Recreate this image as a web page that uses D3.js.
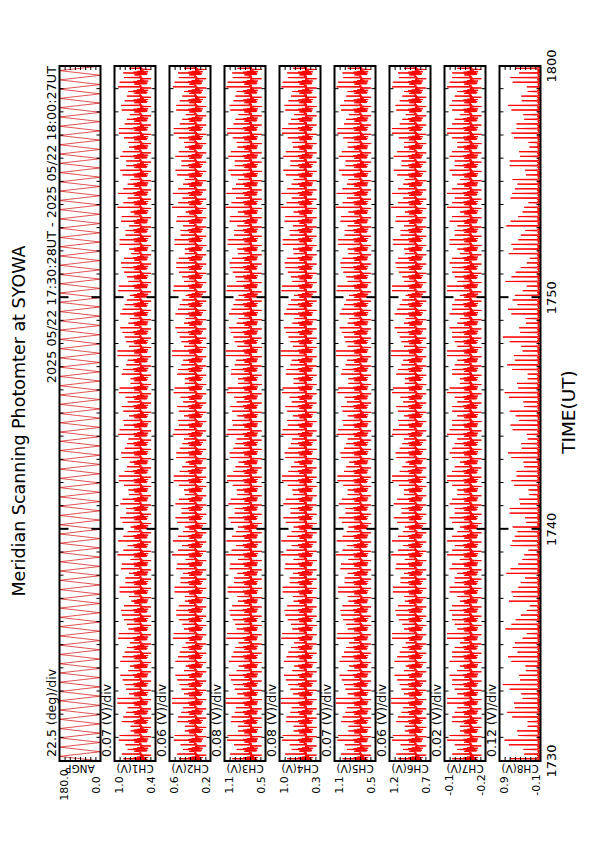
<!DOCTYPE html>
<html>
<head>
<meta charset="utf-8">
<script src="https://cdn.jsdelivr.net/npm/d3@7"></script>
<style>
	body { margin: 0; background: #fff; }
	text { font-family: "DejaVu Sans", "Liberation Sans", Arial, sans-serif; fill: #000; }
</style>
</head>
<body>
<div id="chart-area"></div>
<script>
// panel labels / scales, top panel first
let channelNames = ["ANGP", "CH1(V)", "CH2(V)", "CH3(V)", "CH4(V)", "CH5(V)", "CH6(V)", "CH7(V)", "CH8(V)"];
let scaleLabels = ["22.5 (deg)/div", "0.07 (V)/div", "0.06 (V)/div", "0.08 (V)/div", "0.08 (V)/div",
	"0.07 (V)/div", "0.06 (V)/div", "0.02 (V)/div", "0.12 (V)/div"];
let divValues = [22.5, 0.07, 0.06, 0.08, 0.08, 0.07, 0.06, 0.02, 0.12];
let minValues = [0, 0.40, 0.15, 0.50, 0.33, 0.50, 0.70, -0.25, -0.10];
let maxLabels = ["180.0", "1.0", "0.6", "1.1", "1.0", "1.1", "1.2", "-0.1", "0.9"];
let minLabels = ["0.0", "0.4", "0.2", "0.5", "0.3", "0.5", "0.7", "-0.2", "-0.1"];

// time axis, minutes after 17:00 UT
let startMin = 30;
let endMin = 60;
let timeTicks = [30, 40, 50, 60];
let timeTickLabels = ["1730", "1740", "1750", "1800"];
let scanCount = 75;

// mirror angle (deg) at each sample of one scan: north to south and back
let scanAngles = [0, 15, 30, 45, 60, 75, 90, 105, 120, 135, 150, 165, 180,
	165, 150, 135, 120, 105, 90, 75, 60, 45, 30, 15];
let peakSlots = [6, 18];

// intensity at each sample of one scan, per channel (V)
let ch1Profile = [0.62,0.69,0.52,0.67,0.51,0.68,0.80,0.53,0.70,0.50,0.65,0.56,0.61,0.59,0.61,0.46,0.60,0.58,0.80,0.61,0.59,0.62,0.60,0.61];
let ch2Profile = [0.34,0.40,0.26,0.38,0.25,0.39,0.50,0.27,0.41,0.24,0.37,0.28,0.33,0.31,0.33,0.20,0.32,0.30,0.50,0.33,0.31,0.34,0.32,0.33];
let ch3Profile = [0.76,0.83,0.64,0.81,0.63,0.82,1.00,0.65,0.85,0.62,0.79,0.68,0.74,0.72,0.74,0.56,0.73,0.71,1.00,0.74,0.71,0.76,0.72,0.74];
let ch4Profile = [0.59,0.66,0.47,0.64,0.46,0.65,0.83,0.48,0.68,0.45,0.62,0.51,0.57,0.55,0.57,0.39,0.56,0.54,0.83,0.57,0.54,0.59,0.55,0.57];
let ch5Profile = [0.72,0.79,0.62,0.77,0.61,0.78,0.90,0.63,0.80,0.60,0.75,0.66,0.71,0.69,0.71,0.56,0.70,0.68,0.90,0.71,0.69,0.72,0.70,0.71];
let ch6Profile = [0.89,0.95,0.81,0.93,0.80,0.94,1.05,0.82,0.96,0.79,0.92,0.83,0.88,0.86,0.88,0.75,0.87,0.85,1.05,0.88,0.86,0.89,0.87,0.88];
let ch7Profile = [-0.186,-0.167,-0.215,-0.173,-0.218,-0.170,-0.12,-0.212,-0.164,-0.221,-0.178,-0.205,
	-0.189,-0.196,-0.189,-0.234,-0.192,-0.199,-0.12,-0.191,-0.197,-0.186,-0.194,-0.189];
let ch8Profile = [-0.06,-0.03,-0.08,-0.04,-0.07,-0.02,0.10,-0.05,-0.09,-0.03,-0.06,-0.08,-0.04,-0.07,-0.02,-0.09,-0.05,-0.03,0.10,-0.06,-0.08,-0.04,-0.07,-0.05];

// brightest sample of each scan (V)
let ch1Peaks = [0.84,0.78,0.90,0.74,0.86,0.80,0.92,0.76,0.82,0.88,0.75,0.85,0.79,0.91,0.77,0.83,0.87,0.73,0.89,0.81,
	0.76,0.86,0.92,0.78,0.84,0.74,0.88,0.80,0.85,0.77,0.90,0.82,0.75,0.87,0.79,0.91,0.83,0.76,0.86,0.81,
	0.89,0.74,0.84,0.78,0.92,0.80,0.85,0.77,0.88,0.82,0.75,0.90,0.79,0.86,0.83,0.76,0.89,0.81,0.87,0.74,
	0.84,0.91,0.78,0.85,0.80,0.88,0.76,0.83,0.90,0.79,0.86,0.82,0.77,0.89,0.84];
let ch2Peaks = [0.52,0.47,0.58,0.45,0.54,0.49,0.60,0.46,0.51,0.56,0.44,0.53,0.48,0.59,0.46,0.52,0.55,0.45,0.57,0.50,
	0.47,0.54,0.60,0.48,0.53,0.45,0.56,0.49,0.52,0.46,0.58,0.51,0.44,0.55,0.48,0.59,0.52,0.46,0.54,0.50,
	0.57,0.45,0.53,0.47,0.60,0.49,0.54,0.46,0.56,0.51,0.44,0.58,0.48,0.55,0.52,0.45,0.57,0.50,0.55,0.44,
	0.53,0.59,0.47,0.54,0.49,0.56,0.45,0.52,0.58,0.48,0.55,0.51,0.46,0.57,0.53];
let ch3Peaks = [1.02,0.95,1.10,0.93,1.04,0.98,1.12,0.94,1.00,1.07,0.92,1.03,0.97,1.11,0.95,1.01,1.06,0.93,1.09,0.99,
	0.94,1.05,1.12,0.96,1.02,0.93,1.08,0.98,1.04,0.95,1.10,1.00,0.92,1.06,0.97,1.11,1.01,0.94,1.05,0.99,
	1.09,0.93,1.03,0.96,1.12,0.98,1.04,0.95,1.07,1.00,0.92,1.10,0.97,1.05,1.02,0.94,1.09,0.99,1.06,0.93,
	1.03,1.11,0.96,1.04,0.98,1.08,0.94,1.01,1.10,0.97,1.05,1.00,0.95,1.09,1.02];
let ch4Peaks = [0.85,0.78,0.93,0.75,0.87,0.80,0.95,0.76,0.83,0.90,0.74,0.86,0.79,0.94,0.77,0.84,0.89,0.75,0.92,0.81,
	0.76,0.88,0.95,0.78,0.85,0.75,0.91,0.80,0.87,0.77,0.93,0.83,0.74,0.89,0.79,0.94,0.84,0.76,0.88,0.81,
	0.92,0.75,0.86,0.78,0.95,0.80,0.87,0.77,0.90,0.83,0.74,0.93,0.79,0.88,0.85,0.76,0.92,0.81,0.89,0.75,
	0.86,0.94,0.78,0.87,0.80,0.91,0.76,0.84,0.93,0.79,0.88,0.83,0.77,0.92,0.85];
let ch5Peaks = [0.95,0.89,1.02,0.87,0.97,0.91,1.04,0.88,0.93,0.99,0.86,0.96,0.90,1.03,0.88,0.94,0.98,0.87,1.01,0.92,
	0.88,0.97,1.04,0.89,0.95,0.87,1.00,0.91,0.96,0.88,1.02,0.93,0.86,0.98,0.90,1.03,0.94,0.88,0.97,0.92,
	1.01,0.87,0.95,0.89,1.04,0.91,0.96,0.88,0.99,0.93,0.86,1.02,0.90,0.97,0.95,0.88,1.01,0.92,0.98,0.87,
	0.95,1.03,0.89,0.96,0.91,1.00,0.88,0.94,1.02,0.90,0.97,0.93,0.88,1.01,0.95];
let ch6Peaks = [1.08,1.02,1.15,1.00,1.10,1.04,1.16,1.01,1.06,1.12,0.99,1.09,1.03,1.15,1.01,1.07,1.11,1.00,1.14,1.05,
	1.01,1.10,1.16,1.02,1.08,1.00,1.13,1.04,1.09,1.01,1.15,1.06,0.99,1.11,1.03,1.15,1.07,1.01,1.10,1.05,
	1.14,1.00,1.08,1.02,1.16,1.04,1.09,1.01,1.12,1.06,0.99,1.15,1.03,1.10,1.08,1.01,1.14,1.05,1.11,1.00,
	1.08,1.15,1.02,1.09,1.04,1.13,1.01,1.07,1.15,1.03,1.10,1.06,1.01,1.14,1.08];
let ch7Peaks = [-0.12,-0.14,-0.10,-0.15,-0.12,-0.13,-0.10,-0.14,-0.12,-0.11,-0.15,-0.12,-0.13,-0.10,-0.14,-0.12,-0.11,-0.15,-0.11,-0.13,
	-0.14,-0.12,-0.10,-0.13,-0.12,-0.15,-0.11,-0.13,-0.12,-0.14,-0.10,-0.12,-0.15,-0.11,-0.13,-0.10,-0.12,-0.14,-0.12,-0.13,
	-0.11,-0.15,-0.12,-0.14,-0.10,-0.13,-0.12,-0.14,-0.11,-0.12,-0.15,-0.10,-0.13,-0.12,-0.12,-0.14,-0.11,-0.13,-0.11,-0.15,
	-0.12,-0.10,-0.14,-0.12,-0.13,-0.11,-0.14,-0.12,-0.10,-0.13,-0.12,-0.12,-0.14,-0.11,-0.12];
let ch8Peaks = [0.62,0.30,0.74,0.45,0.20,0.68,0.52,0.35,0.78,0.40,0.25,0.66,0.55,0.32,0.72,0.48,0.22,0.64,0.58,0.36,
	0.70,0.42,0.28,0.60,0.50,0.55,0.26,0.62,0.40,0.18,0.58,0.46,0.30,0.66,0.35,0.22,0.60,0.48,0.28,0.64,
	0.42,0.20,0.56,0.50,0.32,0.62,0.38,0.24,0.58,0.44,0.50,0.22,0.58,0.36,0.15,0.54,0.42,0.26,0.60,0.32,
	0.18,0.56,0.44,0.24,0.62,0.38,0.16,0.52,0.46,0.28,0.58,0.34,0.20,0.55,0.40];

let profiles = [null, ch1Profile, ch2Profile, ch3Profile, ch4Profile, ch5Profile, ch6Profile, ch7Profile, ch8Profile];
let peaks = [null, ch1Peaks, ch2Peaks, ch3Peaks, ch4Peaks, ch5Peaks, ch6Peaks, ch7Peaks, ch8Peaks];

// page is portrait, the plot is drawn landscape and turned
let pageW = 595, pageH = 842;
let plotLeft = 81, plotRight = 776;
let panelTop0 = 59.5, panelStep = 55, panelH = 41;

let svg = d3.select("#chart-area").append("svg")
	.attr("width", pageW)
	.attr("height", pageH);

svg.append("rect").attr("width", pageW).attr("height", pageH).attr("fill", "#fff");

let land = svg.append("g")
	.attr("transform", "translate(0," + pageH + ") rotate(-90)");

let x = d3.scaleLinear()
	.domain([startMin, endMin])
	.range([plotLeft, plotRight]);

// one sample per scan step; the two 90 deg crossings carry the scan's peaks
function buildSeries(i) {
	let pts = [];
	let n = scanAngles.length;
	let scanLen = (endMin - startMin) / scanCount;
	for (let s = 0; s < scanCount; s++) {
		for (let k = 0; k < n; k++) {
			let t = startMin + (s + k / n) * scanLen;
			let v = i === 0 ? scanAngles[k] : profiles[i][k];
			if (i > 0 && k === peakSlots[0]) v = peaks[i][s % peaks[i].length];
			if (i > 0 && k === peakSlots[1]) v = peaks[i][(s + 38) % peaks[i].length];
			pts.push({t: t, v: v});
		}
	}
	pts.push({t: endMin, v: i === 0 ? scanAngles[0] : profiles[i][0]});
	return pts;
}

let defs = land.append("defs");

channelNames.forEach((name, i) => {
	let top = panelTop0 + i * panelStep;
	let bottom = top + panelH;
	let vMin = minValues[i];
	let vMax = vMin + 8 * divValues[i];

	let y = d3.scaleLinear().domain([vMin, vMax]).range([bottom, top]);

	defs.append("clipPath").attr("id", "clip" + i)
		.append("rect")
		.attr("x", plotLeft).attr("y", top)
		.attr("width", plotRight - plotLeft).attr("height", panelH);

	let line = d3.line()
		.x(d => x(d.t))
		.y(d => y(d.v));

	land.append("path")
		.datum(buildSeries(i))
		.attr("clip-path", "url(#clip" + i + ")")
		.attr("d", line)
		.attr("fill", "none")
		.attr("stroke", i === 0 ? "#d00000" : "#ff0000")
		.attr("stroke-width", i === 0 ? 0.7 : 1);

	// time ticks, inward on both edges
	let minorVals = d3.range(startMin + 1, endMin).filter(t => t % 10 !== 0);
	let majorVals = timeTicks.filter(t => t > startMin && t < endMin);

	let tickGroups = [
		land.append("g").attr("transform", "translate(0," + bottom + ")").call(d3.axisBottom(x).tickValues(minorVals).tickSize(-4).tickFormat("")),
		land.append("g").attr("transform", "translate(0," + top + ")").call(d3.axisTop(x).tickValues(minorVals).tickSize(-4).tickFormat("")),
		land.append("g").attr("class", "major").attr("transform", "translate(0," + bottom + ")").call(d3.axisBottom(x).tickValues(majorVals).tickSize(-9).tickFormat("")),
		land.append("g").attr("class", "major").attr("transform", "translate(0," + top + ")").call(d3.axisTop(x).tickValues(majorVals).tickSize(-9).tickFormat(""))
	];

	// value ticks at each division
	let divTicks = d3.range(1, 8).map(k => vMin + k * divValues[i]);
	tickGroups.push(
		land.append("g").attr("transform", "translate(" + plotLeft + ",0)").call(d3.axisLeft(y).tickValues(divTicks).tickSize(-4).tickFormat("")),
		land.append("g").attr("transform", "translate(" + plotRight + ",0)").call(d3.axisRight(y).tickValues(divTicks).tickSize(-4).tickFormat(""))
	);

	tickGroups.forEach(g => {
		g.select(".domain").remove();
		g.selectAll("line").attr("stroke", "#000").attr("stroke-width", g.classed("major") ? 2 : 1);
	});

	land.append("rect")
		.attr("x", plotLeft).attr("y", top)
		.attr("width", plotRight - plotLeft).attr("height", panelH)
		.attr("fill", "none")
		.attr("stroke", "#000")
		.attr("stroke-width", 2);

	// per-panel scale text
	land.append("text")
		.attr("x", 85).attr("y", top - 4)
		.attr("font-size", 12.5)
		.text(scaleLabels[i]);

	land.append("text")
		.attr("x", 57).attr("y", top + 8.5)
		.attr("text-anchor", "middle")
		.attr("font-size", 11)
		.text(maxLabels[i]);

	land.append("text")
		.attr("x", 57).attr("y", bottom - 1)
		.attr("text-anchor", "middle")
		.attr("font-size", 11)
		.text(minLabels[i]);

	land.append("text")
		.attr("transform", "translate(77," + (top + panelH / 2) + ") rotate(-90)")
		.attr("text-anchor", "middle")
		.attr("font-size", 10.5)
		.text(name);
});

// time labels under the last panel
timeTicks.forEach((t, k) => {
	land.append("text")
		.attr("x", x(t)).attr("y", 556)
		.attr("text-anchor", "middle")
		.attr("font-size", 13)
		.text(timeTickLabels[k]);
});

land.append("text")
	.attr("x", 430).attr("y", 575)
	.attr("text-anchor", "middle")
	.attr("font-size", 18.5)
	.text("TIME(UT)");

land.append("text")
	.attr("x", plotRight).attr("y", panelTop0 - 4)
	.attr("text-anchor", "end")
	.attr("font-size", 12.8)
	.text("2025 05/22 17:30:28UT - 2025 05/22 18:00:27UT");

land.append("text")
	.attr("x", 421).attr("y", 25)
	.attr("text-anchor", "middle")
	.attr("font-size", 17.5)
	.text("Meridian Scanning Photomter at SYOWA");
</script>
</body>
</html>
